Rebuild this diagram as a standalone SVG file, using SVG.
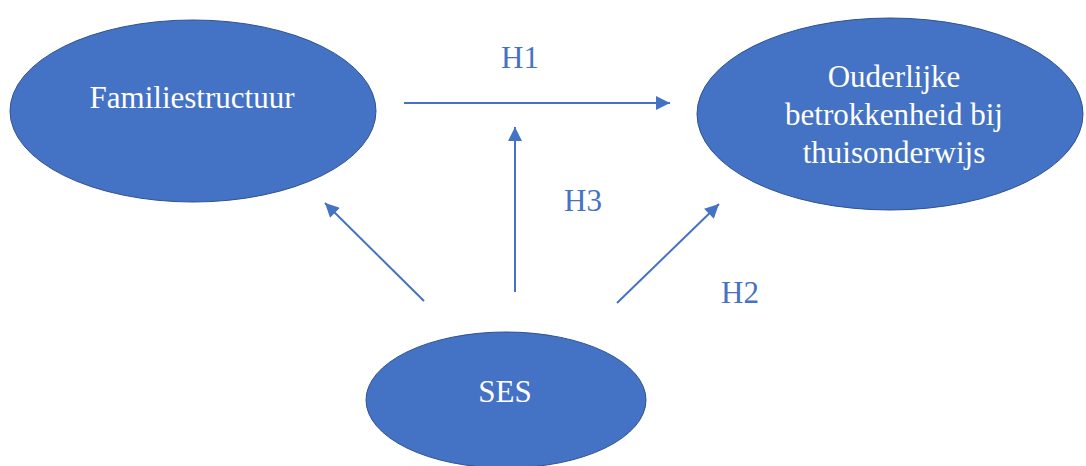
<svg xmlns="http://www.w3.org/2000/svg" width="1086" height="466" viewBox="0 0 1086 466">
  <defs>
    <style>
      .node { fill: #4472C4; stroke: #2F528F; stroke-width: 1; }
      .label { font-family: 'Liberation Serif', serif; font-size: 31px; fill: #FFFFFF; text-anchor: middle; }
      .edge { stroke: #4472C4; stroke-width: 2; fill: none; marker-end: url(#arrow); }
      .hyp { font-family: 'Liberation Serif', serif; font-size: 31px; fill: #4472C4; text-anchor: middle; }
    </style>
    <marker id="arrow" viewBox="0 0 10 10" refX="10" refY="5" markerWidth="15" markerHeight="14" markerUnits="userSpaceOnUse" orient="auto">
      <path d="M0,0 L10,5 L0,10 z" fill="#4472C4"/>
    </marker>
  </defs>
  <rect width="1086" height="466" fill="#FFFFFF"/>

  <g id="connectors">
    <line class="edge" x1="404" y1="103" x2="670" y2="103"/>
    <line class="edge" x1="515" y1="292" x2="515" y2="127"/>
    <line class="edge" x1="424" y1="301" x2="325" y2="203"/>
    <line class="edge" x1="617" y1="303" x2="719" y2="204"/>
    <text class="hyp" x="520" y="68">H1</text>
    <text class="hyp" x="583" y="211">H3</text>
    <text class="hyp" x="740" y="303">H2</text>
  </g>

  <g id="familiestructuur">
    <ellipse class="node" cx="193" cy="111" rx="183" ry="91"/>
    <text class="label" x="192" y="108">Familiestructuur</text>
  </g>

  <g id="ouderlijke-betrokkenheid">
    <ellipse class="node" cx="890" cy="114" rx="193" ry="96"/>
    <text class="label" x="894" y="87">Ouderlijke</text>
    <text class="label" x="894" y="125">betrokkenheid bij</text>
    <text class="label" x="894" y="163">thuisonderwijs</text>
  </g>

  <g id="ses">
    <ellipse class="node" cx="506" cy="400" rx="140" ry="68"/>
    <text class="label" x="505" y="402">SES</text>
  </g>
</svg>
